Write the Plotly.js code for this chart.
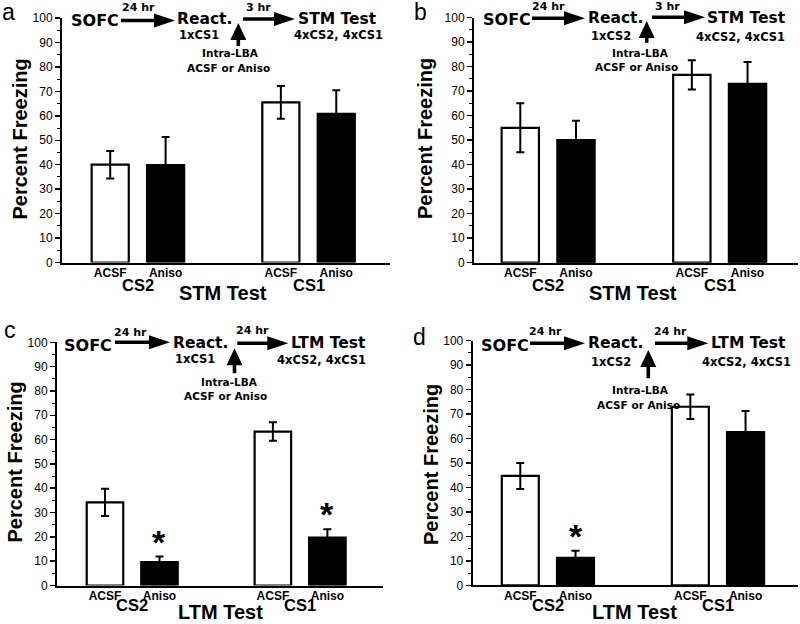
<!DOCTYPE html>
<html><head><meta charset="utf-8">
<script src="https://cdn.plot.ly/plotly-3.0.1.min.js"></script>
<style>html,body{margin:0;padding:0;background:#fff}#chart{width:800px;height:624px}</style>
</head><body><div id="chart"></div>
<script>
// ---------------- DATA ----------------
const groups = ['CS2', 'CS1'];
const treatments = ['ACSF', 'Aniso'];
const panelLetters = ['a', 'b', 'c', 'd'];
const testNames = ['STM Test', 'STM Test', 'LTM Test', 'LTM Test'];
const reactivationCS = ['1xCS1', '1xCS2', '1xCS1', '1xCS2'];
const secondDelay = ['3 hr', '3 hr', '24 hr', '24 hr'];
const yTickVals = [0, 10, 20, 30, 40, 50, 60, 70, 80, 90, 100];

// panel a (STM, reactivate CS1)
const a_ACSF = [40.0, 65.5];
const a_ACSF_sem = [5.6, 6.7];
const a_Aniso = [39.8, 60.8];
const a_Aniso_sem = [11.5, 9.6];
const a_sig = [false, false];
// panel b (STM, reactivate CS2)
const b_ACSF = [55.0, 76.6];
const b_ACSF_sem = [10.0, 6.0];
const b_Aniso = [50.0, 72.9];
const b_Aniso_sem = [7.9, 9.0];
const b_sig = [false, false];
// panel c (LTM, reactivate CS1)
const c_ACSF = [34.2, 63.3];
const c_ACSF_sem = [5.6, 3.8];
const c_Aniso = [9.6, 19.7];
const c_Aniso_sem = [2.3, 3.4];
const c_sig = [true, true];
// panel d (LTM, reactivate CS2)
const d_ACSF = [44.7, 73.0];
const d_ACSF_sem = [5.3, 5.0];
const d_Aniso = [11.2, 62.6];
const d_Aniso_sem = [2.9, 8.7];
const d_sig = [true, false];

// ---------------- LAYOUT HELPERS ----------------
const W = 800, H = 624;
const px = x => x / W;
const py = y => 1 - y / H;
const GROUP_STEP = 3.08;
const xpos = (g, t) => 1 + t + g * GROUP_STEP;

const BOLD = 'Liberation Sans, Arial, sans-serif';
const SCHEM = 'DejaVu Sans, sans-serif';

const panels = [
  {vals: [a_ACSF, a_Aniso], sems: [a_ACSF_sem, a_Aniso_sem], sig: a_sig,
   box: [62, 390, 18, 262.5], xr: [0.13, 6.05], letter: [8.5, null],
   ytitle: [19, 139.5], xtitle: [222.5, 292.5], csY: 285,
   s: {sofc: [95, 21], d1: [138.3, 7.5], react: [204, 19], cs: [199, 34.7], d2: [258.3, 7.5],
       test: [337.5, 19], tcs: [338.3, 34.7], intra: [230.5, 53.3], inj: [228.3, 68.3],
       a1: [121, 175, 20.5], a2: [243, 295, 19], up: [238.3, 23, 46]}},
  {vals: [b_ACSF, b_Aniso], sems: [b_ACSF_sem, b_Aniso_sem], sig: b_sig,
   box: [474, 798, 17.5, 262.7], xr: [0.169, 5.986], letter: [420, null],
   ytitle: [425, 139], xtitle: [632.5, 292.5], csY: 285,
   s: {sofc: [506.7, 19], d1: [548.3, 7], react: [615, 18.3], cs: [610.8, 35.5], d2: [667.5, 7],
       test: [746.7, 18.3], tcs: [740.8, 36.7], intra: [640, 53.3], inj: [636.7, 67.5],
       a1: [532, 585, 18.3], a2: [652, 705, 17.3], up: [646.7, 21, 42.7]}},
  {vals: [c_ACSF, c_Aniso], sems: [c_ACSF_sem, c_Aniso_sem], sig: c_sig,
   box: [57, 383, 342.3, 585.5], xr: [0.12, 6.10], letter: [10, 330],
   ytitle: [14, 462.5], xtitle: [220, null], csY: 605,
   s: {sofc: [88.3, 345], d1: [130, 332.5], react: [200.8, 343], cs: [195, 358.5], d2: [252.5, 330.5],
       test: [328.3, 343], tcs: [321.7, 360.5], intra: [230, 381.7], inj: [225, 396],
       a1: [115, 170, 342.3], a2: [237.3, 288.3, 343.3], up: [234.5, 348.3, 373.3]}},
  {vals: [d_ACSF, d_Aniso], sems: [d_ACSF_sem, d_Aniso_sem], sig: d_sig,
   box: [472.7, 798, 340.7, 585.3], xr: [0.138, 6.03], letter: [419, 336.7],
   ytitle: [431, 464], xtitle: [634, null], csY: 605,
   s: {sofc: [505, 345], d1: [545.8, 331.7], react: [615, 343], cs: [610.8, 361.7], d2: [670, 331.7],
       test: [748.3, 343], tcs: [746.7, 361.7], intra: [640, 390], inj: [638.3, 405],
       a1: [530, 585, 343.3], a2: [655, 708.3, 343.3], up: [648.3, 350, 378.3]}}
];

function pathFrom(pts) {
  return 'M' + pts.map(p => px(p[0]).toFixed(5) + ',' + py(p[1]).toFixed(5)).join('L') + 'Z';
}
function hArrow(x0, x1, y) {
  const L = 21, Hh = 7, t = 1.8;
  return {type: 'path', xref: 'paper', yref: 'paper', fillcolor: '#000', line: {width: 0},
    path: pathFrom([[x0, y - t], [x1 - L, y - t], [x1 - L, y - Hh], [x1, y], [x1 - L, y + Hh], [x1 - L, y + t], [x0, y + t]])};
}
function vArrow(x, yTip, yBot) {
  const L = 17, Hw = 8, t = 1.8;
  return {type: 'path', xref: 'paper', yref: 'paper', fillcolor: '#000', line: {width: 0},
    path: pathFrom([[x - t, yBot], [x - t, yTip + L], [x - Hw, yTip + L], [x, yTip], [x + Hw, yTip + L], [x + t, yTip + L], [x + t, yBot]])};
}
function txt(text, x, y, size, family, extra) {
  return Object.assign({text: text, xref: 'paper', yref: 'paper', x: px(x), y: py(y),
    xanchor: 'center', yanchor: 'middle', showarrow: false, borderpad: 0,
    font: {family: family, size: size, color: '#000', weight: 700}}, extra || {});
}

const data = [];
const layout = {
  width: W, height: H, margin: {l: 0, r: 0, t: 0, b: 0},
  paper_bgcolor: '#fff', plot_bgcolor: 'rgba(0,0,0,0)', showlegend: false,
  bargap: 0, annotations: [], shapes: []
};

panels.forEach((p, i) => {
  const n = i === 0 ? '' : String(i + 1);
  const xa = 'x' + n, ya = 'y' + n;
  const tickvals = [], ticktext = [];
  groups.forEach((g, gi) => treatments.forEach((t, ti) => { tickvals.push(xpos(gi, ti)); ticktext.push(t); }));

  treatments.forEach((t, ti) => {
    data.push({
      type: 'bar', name: t, xaxis: xa, yaxis: ya,
      x: groups.map((g, gi) => xpos(gi, ti)), y: p.vals[ti],
      width: 0.67,
      marker: {color: ti === 0 ? '#fff' : '#000', line: {color: '#000', width: 2.2}},
      error_y: {type: 'data', array: p.sems[ti], visible: true, color: '#000', thickness: 2, width: 4},
      hoverinfo: 'y', cliponaxis: false
    });
  });

  layout['xaxis' + n] = {
    domain: [px(p.box[0]), px(p.box[1])], range: p.xr, anchor: ya,
    showline: true, linewidth: 2, linecolor: '#000', ticks: '', showgrid: false, zeroline: false,
    tickvals: tickvals, ticktext: ticktext, ticklabelstandoff: -2,
    tickfont: {family: BOLD, size: 12, color: '#000', weight: 700}, fixedrange: true
  };
  layout['yaxis' + n] = {
    domain: [py(p.box[3]), py(p.box[2])], range: [0, 100], anchor: xa,
    showline: true, linewidth: 2, linecolor: '#000', showgrid: false, zeroline: false,
    tickvals: yTickVals, ticks: 'outside', ticklen: 5, tickwidth: 1.5, tickcolor: '#000',
    tickfont: {family: BOLD, size: 12, color: '#000'},
    minor: {tick0: 0, dtick: 5, ticks: 'outside', ticklen: 3, tickwidth: 1, tickcolor: '#000', showgrid: false},
    fixedrange: true
  };

  const A = layout.annotations;
  // group labels and significance stars
  groups.forEach((g, gi) => {
    A.push({text: g, xref: xa, yref: 'paper', x: (xpos(gi, 0) + xpos(gi, 1)) / 2, y: py(p.csY),
      xanchor: 'center', yanchor: 'middle', showarrow: false, borderpad: 0,
      font: {family: BOLD, size: 16.5, color: '#000', weight: 700}});
    if (p.sig[gi]) {
      A.push({text: '*', xref: xa, yref: ya, x: xpos(gi, 1), y: p.vals[1][gi] + p.sems[1][gi],
        xanchor: 'center', yanchor: 'bottom', yshift: -6, showarrow: false,
        font: {family: BOLD, size: 34, color: '#000', weight: 700}});
    }
  });
  // titles
  A.push(txt('Percent Freezing', p.ytitle[0], p.ytitle[1], 20, BOLD, {textangle: -90}));
  if (p.xtitle[1] === null) {
    A.push(txt(testNames[i], p.xtitle[0], 0, 20, BOLD, {y: 0, yanchor: 'bottom'}));
  } else {
    A.push(txt(testNames[i], p.xtitle[0], p.xtitle[1], 20, BOLD));
  }
  const letterFont = {family: BOLD, size: 23, color: '#000', weight: 400};
  if (p.letter[1] === null) {
    A.push(txt(panelLetters[i], p.letter[0], 0, 23, BOLD, {y: 1, yanchor: 'top', yshift: 2, font: letterFont}));
  } else {
    A.push(txt(panelLetters[i], p.letter[0], p.letter[1], 23, BOLD, {font: letterFont}));
  }
  // schematic
  const s = p.s;
  A.push(txt('SOFC', s.sofc[0], s.sofc[1], 16, SCHEM));
  A.push(txt('24 hr', s.d1[0], s.d1[1], 11, SCHEM));
  A.push(txt('React.', s.react[0], s.react[1], 15.5, SCHEM));
  A.push(txt(reactivationCS[i], s.cs[0], s.cs[1], 11.5, SCHEM));
  A.push(txt(secondDelay[i], s.d2[0], s.d2[1], 11, SCHEM));
  A.push(txt(testNames[i], s.test[0], s.test[1], 15.5, SCHEM));
  A.push(txt('4xCS2, 4xCS1', s.tcs[0], s.tcs[1], 11.5, SCHEM));
  A.push(txt('Intra-LBA', s.intra[0], s.intra[1], 10.5, SCHEM));
  A.push(txt('ACSF or Aniso', s.inj[0], s.inj[1], 10.5, SCHEM));
  layout.shapes.push(hArrow(s.a1[0], s.a1[1], s.a1[2]));
  layout.shapes.push(hArrow(s.a2[0], s.a2[1], s.a2[2]));
  layout.shapes.push(vArrow(s.up[0], s.up[1], s.up[2]));
});

Plotly.newPlot('chart', data, layout, {staticPlot: true, displayModeBar: false});
</script>
</body></html>
